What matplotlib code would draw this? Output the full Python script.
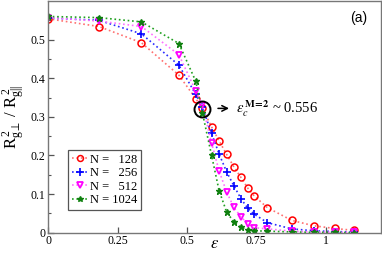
import matplotlib

matplotlib.use("Agg")
import matplotlib.pyplot as plt

plt.rcParams["font.family"] = ["Liberation Serif", "DejaVu Serif"]
plt.rcParams["mathtext.fontset"] = "stix"

# epsilon grid shared by all chain lengths
eps = [0.0, 0.183, 0.336, 0.471, 0.532, 0.556, 0.589, 0.616, 0.643, 0.669,
       0.695, 0.72, 0.743, 0.79, 0.878, 0.957, 1.033, 1.103]

ratio_128 = [0.554, 0.534, 0.492, 0.408, 0.347, 0.322, 0.274, 0.238, 0.203, 0.171,
             0.143, 0.115, 0.095, 0.065, 0.032, 0.018, 0.011, 0.006]
ratio_256 = [0.556, 0.550, 0.515, 0.434, 0.358, 0.325, 0.257, 0.204, 0.158, 0.122,
             0.088, 0.063, 0.048, 0.026, 0.010, 0.005, 0.003, 0.002]
ratio_512 = [0.557, 0.548, 0.534, 0.461, 0.367, 0.330, 0.232, 0.160, 0.106, 0.066,
             0.041, 0.023, 0.013, 0.010, 0.004, 0.002, 0.001, 0.001]
ratio_1024 = [0.560, 0.557, 0.546, 0.490, 0.392, 0.310, 0.200, 0.109, 0.054, 0.028,
              0.014, 0.008, 0.005, 0.004, 0.002, 0.001, 0.001, 0.000]

labels = ["N =   128", "N =   256", "N =   512", "N = 1024"]
xticks = [0, 0.25, 0.5, 0.75, 1]
xtick_labels = ["0", "0.25", "0.5", "0.75", "1"]
yticks = [0, 0.1, 0.2, 0.3, 0.4, 0.5]
ytick_labels = ["0", "0.1", "0.2", "0.3", "0.4", "0.5"]
eps_c = 0.556

fig = plt.figure(figsize=(3.82, 2.58), dpi=100)
ax = fig.add_axes([0.1264, 0.098, 0.871, 0.898])

ax.plot(eps, ratio_128, ls=":", color="#ff7070", lw=1.2, marker="o", ms=5,
        mfc="none", mec="red", mew=1.1, label=labels[0])
ax.plot(eps, ratio_256, ls=":", color="#2a2aff", lw=1.2, marker="+", ms=6,
        mec="blue", mew=1.2, label=labels[1])
ax.plot(eps, ratio_512, ls=":", color="#ff70ff", lw=1.2, marker="v", ms=5,
        mfc="none", mec="#ff00ff", mew=1.3, label=labels[2])
ax.plot(eps, ratio_1024, ls=":", color="#20a020", lw=1.2, marker="*", ms=5,
        mfc="#108010", mec="#108010", label=labels[3])

# circle marking the crossing point + arrow and label
ax.plot([eps_c], [0.32], marker="o", ms=11.5, mfc="none", mec="black", mew=1.4)
ax.annotate("", xy=(0.662, 0.322), xytext=(0.602, 0.322),
            arrowprops=dict(arrowstyle="->", color="black", lw=1.1))
ax.text(0.677, 0.322, r"$\varepsilon_c^{\,\mathbf{M\!=\!2}}$ ~ 0.556", fontsize=10.5,
        va="center", ha="left")

ax.text(0.96, 0.955, "(a)", transform=ax.transAxes, ha="right", va="top",
        fontsize=10, family="Liberation Sans")

ax.set_xlim(0, 1.2)
ax.set_ylim(0, 0.6)
ax.set_xticks(xticks)
ax.set_xticklabels(xtick_labels)
ax.set_yticks(yticks)
ax.set_yticklabels(ytick_labels)
ax.set_yticks([0.05, 0.15, 0.25, 0.35, 0.45, 0.55], minor=True)
ax.tick_params(which="both", direction="in", labelsize=8.5, color="#555555")
ax.tick_params(which="major", length=4.5, width=0.9, pad=2)
ax.tick_params(which="minor", length=2.5, width=0.8)
for sp in ax.spines.values():
    sp.set_color("#777777")
    sp.set_linewidth(1.0)

ax.set_xlabel(r"$\varepsilon$", fontsize=12)
ax.xaxis.set_label_coords(0.5, -0.015)
ax.set_ylabel(r"$\mathregular{R_{g\perp}^{\,2}\ /\ R_{g||}^{\,2}}$", fontsize=12)
ax.yaxis.set_label_coords(-0.068, 0.5)

leg = ax.legend(loc="upper left", bbox_to_anchor=(0.178, 0.4186),
                bbox_transform=fig.transFigure, fontsize=9, frameon=True,
                fancybox=False, edgecolor="#555555", framealpha=1,
                borderaxespad=0, handlelength=1.3, handletextpad=0.15,
                labelspacing=0.12, borderpad=0.3, markerscale=0.85)
leg.get_frame().set_linewidth(0.9)

fig.savefig("out.png", dpi=100)
